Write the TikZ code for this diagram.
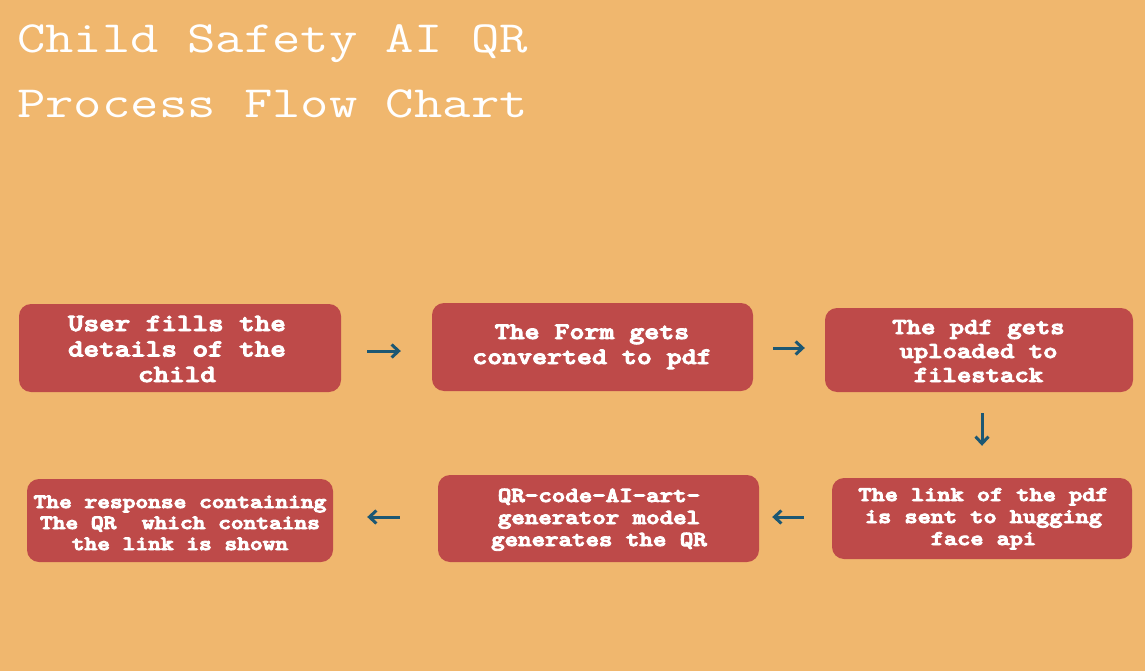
\documentclass[tikz,border=0pt]{standalone}
\usepackage{graphicx}
\usetikzlibrary{arrows.meta}
\definecolor{bg}{RGB}{240,183,110}
\definecolor{boxred}{RGB}{190,74,73}
\definecolor{arrowblue}{RGB}{28,87,115}
\newcommand\mywide[1]{\special{pdf:literal direct 2 Tr 0.9 w}\scalebox{1.2}[1]{#1}\special{pdf:literal direct 0 Tr}}
\newcommand\titlewide[1]{\scalebox{1.235}[1]{#1}}
\tikzset{
  stepbox/.style={rounded corners=12pt, fill=boxred, draw=none, inner sep=0pt},
  steptext/.style={anchor=base, text=white, align=center, inner sep=0pt},
  titletext/.style={anchor=base west, text=white, inner sep=0pt,
    font=\ttfamily\fontsize{44.6}{60}\selectfont},
  arr/.style={draw=arrowblue, line width=3pt,
    -{Straight Barb[length=7pt,width=13pt,line width=3pt]}}
}
\begin{document}
\begin{tikzpicture}[x=1pt,y=-1pt]
\fill[bg] (0,0) rectangle (1145,671);
\useasboundingbox (0,0) rectangle (1145,671);

\node[titletext] (t1) at (17,53) {\titlewide{Child Safety AI QR}};
\node[titletext] (t2) at (17,118) {\titlewide{Process Flow Chart}};

% boxes
\node[stepbox, minimum width=322pt, minimum height=88pt] (b1) at (180,348) {};
\node[stepbox, minimum width=321pt, minimum height=88pt] (b2) at (592.5,347) {};
\node[stepbox, minimum width=308pt, minimum height=84pt] (b3) at (979,350) {};
\node[stepbox, minimum width=300pt, minimum height=81pt] (b4) at (982,518.5) {};
\node[stepbox, minimum width=321pt, minimum height=87pt] (b5) at (598.5,518.5) {};
\node[stepbox, minimum width=306pt, minimum height=83pt] (b6) at (180,520.5) {};

% texts (base anchor = baseline of the last line)
\node[steptext, font=\ttfamily\bfseries\fontsize{24.7}{25.5}\selectfont] (b1t) at (177,382)
  {\mywide{User fills the}\\\mywide{details of the}\\\mywide{child}};
\node[steptext, font=\ttfamily\bfseries\fontsize{23.75}{25}\selectfont] (b2t) at (592,364)
  {\mywide{The Form gets}\\\mywide{converted to pdf}};
\node[steptext, font=\ttfamily\bfseries\fontsize{22.8}{24}\selectfont] (b3t) at (978.5,382)
  {\mywide{The pdf gets}\\\mywide{uploaded to}\\\mywide{filestack}};
\node[steptext, font=\ttfamily\bfseries\fontsize{20.9}{22}\selectfont] (b4t) at (983.5,545)
  {\mywide{The link of the pdf}\\\mywide{is sent to hugging}\\\mywide{face api}};
\node[steptext, font=\ttfamily\bfseries\fontsize{21.4}{22}\selectfont] (b5t) at (599,546)
  {\mywide{QR-code-AI-art-}\\\mywide{generator model}\\\mywide{generates the QR}};
\node[steptext, font=\ttfamily\bfseries\fontsize{20.2}{21}\selectfont] (b6t) at (180,550)
  {\mywide{The response containing}\\\mywide{The QR\ \ which contains}\\\mywide{the link is shown}};

\draw[arr, shorten <=26pt, shorten >=31pt] ([yshift=-3pt]b1.east) -- ([yshift=-3pt]b1.east -| b2.west);
\draw[arr, shorten <=20pt, shorten >=20pt] ([yshift=-1pt]b2.east) -- ([yshift=-1pt]b2.east -| b3.west);
\draw[arr, shorten <=21pt, shorten >=32pt] ([xshift=3pt]b3.south) -- ([xshift=3pt]b3.south |- b4.north);
\draw[arr, shorten <=28pt, shorten >=13pt] ([yshift=1.5pt]b4.west) -- ([yshift=1.5pt]b4.west -| b5.east);
\draw[arr, shorten <=38pt, shorten >=34pt] ([yshift=1.5pt]b5.west) -- ([yshift=1.5pt]b5.west -| b6.east);
\end{tikzpicture}
\end{document}
